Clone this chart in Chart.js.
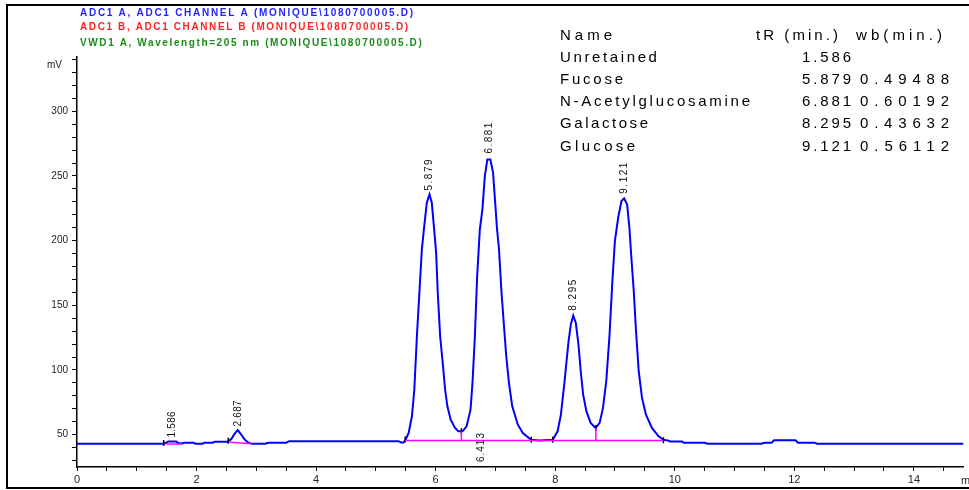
<!DOCTYPE html>
<html lang="en">
<head>
    <meta charset="UTF-8">
    <title>Chromatogram</title>
    <style>
        body {
            margin: 0;
            background-color: #ffffff;
        }

        canvas {
            display: block;
        }
    </style>
    <script src="https://cdn.jsdelivr.net/npm/chart.js"></script>
</head>
<body>

<canvas id="myChart" width="969" height="490"></canvas>

<script>
    // signal trace (time in min, signal in mV)
    const signalT = [
        0, 1.45, 1.50, 1.53, 1.66, 1.70, 1.78, 1.80, 1.95, 1.98, 2.10, 2.13, 2.27, 2.30, 2.52,
        2.58, 2.64, 2.69, 2.74, 2.80, 2.86, 2.92, 3.15, 3.20, 3.50, 3.55, 5.38, 5.42, 5.46, 5.49,
        5.548, 5.603, 5.643, 5.686, 5.731, 5.769, 5.809, 5.852, 5.897, 5.935, 5.975, 6.008, 6.035,
        6.075, 6.118, 6.158, 6.196, 6.251, 6.324, 6.379, 6.450, 6.517, 6.583, 6.616, 6.656, 6.694,
        6.739, 6.782, 6.822, 6.865, 6.915, 6.960, 6.988, 7.027, 7.060, 7.098, 7.143, 7.181, 7.226,
        7.281, 7.375, 7.458, 7.596, 7.736, 7.957, 8.040, 8.095, 8.151, 8.189, 8.223, 8.261, 8.301,
        8.344, 8.389, 8.427, 8.467, 8.522, 8.593, 8.676, 8.743, 8.799, 8.854, 8.909, 8.953, 8.998,
        9.053, 9.108, 9.153, 9.203, 9.241, 9.274, 9.314, 9.352, 9.397, 9.452, 9.518, 9.618, 9.729,
        9.812, 9.895, 9.92, 10.12, 10.15, 10.50, 10.55, 11.45, 11.50, 11.62, 11.66, 12.02, 12.06,
        12.34, 12.38, 14.83
    ];
    const signalMv = [
        43.0, 43.0, 44.0, 44.8, 44.8, 43.3, 43.3, 43.8, 43.8, 43.0, 43.0, 43.8, 43.8, 44.6, 44.6,
        46.5, 51.0, 53.5, 50.5, 46.5, 44.0, 43.0, 43.0, 43.8, 43.8, 45.0, 45.0, 44.0, 44.0, 45.6,
        51.3, 64.2, 84.8, 126.1, 162.2, 193.2, 211.2, 229.3, 235.8, 229.3, 208.7, 190.6, 159.7,
        126.1, 105.5, 84.8, 71.9, 61.6, 55.2, 52.6, 52.6, 56.4, 69.3, 90.0, 126.1, 172.5,
        208.7, 224.2, 249.9, 262.8, 262.8, 252.6, 234.4, 208.7, 193.2, 162.2, 133.8, 110.6, 90.0,
        71.9, 57.7, 51.3, 46.1, 45.4, 46.1, 52.6, 65.5, 88.7, 106.7, 122.2, 135.1, 142.1,
        136.5, 119.7, 99.0, 81.0, 68.0, 59.1, 55.2, 59.1, 70.7, 91.3, 127.4, 166.1, 199.6,
        217.7, 230.6, 232.7, 228.0, 210.0, 186.8, 160.9, 129.9, 99.0, 78.4, 65.5, 55.2, 48.7,
        46.1, 45.4, 44.7, 44.7, 43.8, 43.8, 43.0, 43.0, 43.8, 43.8, 45.6, 45.6, 43.8,
        43.8, 43.0, 43.0
    ];

    // integration baselines and drop lines: [t1, mv1, t2, mv2]
    const baselineSegs = [
        [1.48, 42.8, 1.76, 42.8],
        [2.55, 44.2, 2.92, 43.0],
        [5.49, 45.5, 9.81, 45.5],
        [6.43, 45.5, 6.43, 52.6],
        [8.68, 45.5, 8.68, 55.2]
    ];

    // integration event marks
    const markT = [1.45, 2.53, 5.49, 6.43, 7.60, 7.96, 8.68, 9.81];
    const markMv = [43.6, 45.2, 46.2, 52.6, 46.1, 46.1, 55.2, 45.6];

    // peak labels
    const peakLabels = ['1.586', '2.687', '5.879', '6.881', '8.295', '9.121'];
    const peakApexT = [1.59, 2.69, 5.897, 6.89, 8.301, 9.153];
    const peakApexMv = [45.5, 54.0, 236.5, 265.0, 143.5, 234.0];
    const dropLabel = '6.413';
    const dropLabelT = 6.76;

    // axis ticks
    const xLabels = [0, 2, 4, 6, 8, 10, 12, 14];
    const yLabels = [50, 100, 150, 200, 250, 300];

    // header lines
    const headerLines = [
        'ADC1 A, ADC1 CHANNEL A (MONIQUE\\1080700005.D)',
        'ADC1 B, ADC1 CHANNEL B (MONIQUE\\1080700005.D)',
        'VWD1 A, Wavelength=205 nm (MONIQUE\\1080700005.D)'
    ];
    const headerColors = ['#2424ff', '#ff2424', '#1a8c1a'];

    // result table
    const tableNames = ['Unretained', 'Fucose', 'N-Acetylglucosamine', 'Galactose', 'Glucose'];
    const tableTr = ['1.586', '5.879', '6.881', '8.295', '9.121'];
    const tableWb = ['', '0.49488', '0.60192', '0.43632', '0.56112'];

    // draw text stretched with letter spacing to a given width
    function spaced(ctx, text, x, y, width) {
        ctx.letterSpacing = '0px';
        const w = ctx.measureText(text).width;
        const ls = (width - w) / Math.max(text.length - 1, 1);
        ctx.letterSpacing = ls.toFixed(2) + 'px';
        ctx.fillText(text, x, y);
        ctx.letterSpacing = '0px';
    }

    const overlay = {
        id: 'overlay',
        afterDraw(chart) {
            const ctx = chart.ctx;
            const xs = chart.scales.x;
            const ys = chart.scales.y;
            ctx.save();

            // frame
            ctx.strokeStyle = '#000';
            ctx.lineWidth = 2;
            ctx.beginPath();
            ctx.moveTo(980, 5);
            ctx.lineTo(7, 5);
            ctx.lineTo(7, 488);
            ctx.lineTo(980, 488);
            ctx.stroke();

            // header lines
            ctx.font = 'bold 10px "Liberation Sans"';
            ctx.textBaseline = 'middle';
            ctx.textAlign = 'left';
            const headerY = [13, 27, 43];
            const headerW = [333, 328, 342];
            headerLines.forEach((t, i) => {
                ctx.fillStyle = headerColors[i];
                spaced(ctx, t, 80, headerY[i], headerW[i]);
            });

            // table
            ctx.fillStyle = '#000';
            ctx.font = '15px "Liberation Sans"';
            spaced(ctx, 'Name', 560, 36, 52);
            spaced(ctx, 'tR (min.)', 756, 36, 82);
            spaced(ctx, 'wb(min.)', 856, 36, 86);
            const rowY = [58, 80, 102, 124, 147];
            const nameW = [97, 63, 190, 88, 75];
            tableNames.forEach((n, i) => {
                spaced(ctx, n, 560, rowY[i], nameW[i]);
                spaced(ctx, tableTr[i], 802, rowY[i], 49);
                if (tableWb[i]) spaced(ctx, tableWb[i], 860, rowY[i], 89);
            });

            // axis unit labels
            ctx.font = '10px "Liberation Sans"';
            ctx.fillStyle = '#222';
            spaced(ctx, 'mV', 47, 65, 15);
            ctx.font = '11px "Liberation Sans"';
            spaced(ctx, 'min', 961, 481, 20);

            // rotated peak labels
            ctx.font = '10px "Liberation Sans"';
            ctx.fillStyle = '#111';
            peakLabels.forEach((t, i) => {
                const px = xs.getPixelForValue(peakApexT[i]);
                const py = ys.getPixelForValue(peakApexMv[i]) - 3;
                ctx.save();
                ctx.translate(px, py);
                ctx.rotate(-Math.PI / 2);
                spaced(ctx, t, 0, 0, i < 2 ? 26 : 31);
                ctx.restore();
            });
            ctx.save();
            ctx.translate(xs.getPixelForValue(dropLabelT), 462);
            ctx.rotate(-Math.PI / 2);
            spaced(ctx, dropLabel, 0, 0, 29);
            ctx.restore();

            ctx.restore();
        }
    };

    const signalData = signalT.map((t, i) => ({x: t, y: signalMv[i]}));
    const segDatasets = baselineSegs.map(s => ({
        data: [{x: s[0], y: s[1]}, {x: s[2], y: s[3]}],
        borderColor: '#ff00ff',
        borderWidth: 1.5,
        pointRadius: 0,
        tension: 0
    }));

    const config = {
        type: 'line',
        data: {
            datasets: [
                ...segDatasets,
                {
                    data: markT.map((t, i) => ({x: t, y: markMv[i]})),
                    showLine: false,
                    pointStyle: 'line',
                    rotation: 90,
                    pointRadius: 3,
                    borderColor: '#000',
                    borderWidth: 1.5
                },
                {
                    data: signalData,
                    borderColor: '#0000ff',
                    borderWidth: 2,
                    pointRadius: 0,
                    tension: 0
                }
            ]
        },
        options: {
            responsive: false,
            animation: false,
            layout: {padding: {top: 57, left: 0, right: 0, bottom: 0}},
            plugins: {
                legend: {display: false},
                tooltip: {enabled: false}
            },
            scales: {
                x: {
                    type: 'linear',
                    min: 0,
                    max: 14.83,
                    afterBuildTicks(scale) {
                        const t = [];
                        for (let v = 0; v <= 14.5; v += 0.5) t.push({value: v});
                        scale.ticks = t;
                    },
                    afterFit(scale) {
                        scale.height = 23;
                    },
                    grid: {
                        drawOnChartArea: false,
                        tickLength: 4,
                        color: '#000'
                    },
                    border: {color: '#000', width: 1.5},
                    ticks: {
                        padding: 2,
                        maxRotation: 0,
                        autoSkip: false,
                        color: '#222',
                        font: {family: 'Liberation Sans', size: 11},
                        callback: v => xLabels.includes(v) ? String(v) : ''
                    }
                },
                y: {
                    min: 25,
                    max: 342,
                    afterBuildTicks(scale) {
                        const t = [];
                        for (let v = 30; v <= 340; v += 10) t.push({value: v});
                        scale.ticks = t;
                    },
                    afterFit(scale) {
                        scale.width = 77;
                    },
                    grid: {
                        drawOnChartArea: false,
                        tickLength: 5,
                        color: '#000'
                    },
                    border: {color: '#000', width: 1.5},
                    ticks: {
                        padding: 4,
                        autoSkip: false,
                        color: '#222',
                        font: {family: 'Liberation Sans', size: 10},
                        callback: v => yLabels.includes(v) ? String(v) : ''
                    }
                }
            }
        },
        plugins: [overlay]
    };

    const myChart = new Chart(document.getElementById('myChart'), config);
</script>

</body>
</html>
